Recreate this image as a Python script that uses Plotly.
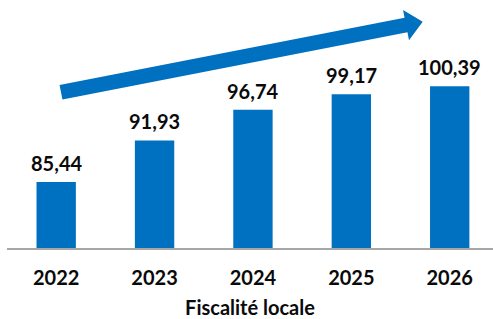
import plotly.graph_objects as go
import math

years = ["2022", "2023", "2024", "2025", "2026"]
values = [85.44, 91.93, 96.74, 99.17, 100.39]
labels = ["85,44", "91,93", "96,74", "99,17", "100,39"]
title_text = "Fiscalité locale"

BLUE = "#0070C0"
FONT = "Lato"
W, H = 493, 319
ML, MR, MT, MB = 7, 0, 0, 69
PW, PH = W - ML - MR, H - MT - MB

fig = go.Figure()
fig.add_trace(go.Bar(x=years, y=values, marker=dict(color=BLUE, line=dict(width=0)),
                     width=0.4, hoverinfo="skip"))

for i, (v, lab) in enumerate(zip(values, labels)):
    fig.add_annotation(x=i, y=v, xref="x", yref="y", text=lab, showarrow=False,
                       yanchor="bottom", yshift=5,
                       font=dict(family=FONT, size=20, color="#0a0a0a", weight="bold"))

# decorative trend arrow (pixel geometry -> paper coords)
def P(px, py):
    return ((px - ML) / PW, (H - MB - py) / PH)

tail = (61.0, 93.0)
tip = (422.7, 22.0)
dx, dy = tip[0] - tail[0], tip[1] - tail[1]
L = math.hypot(dx, dy)
ux, uy = dx / L, dy / L
nx, ny = -uy, ux
hw, hh, hl = 7.5, 15.5, 17.0
base = (tip[0] - ux * hl, tip[1] - uy * hl)
pts = [
    (tail[0] - nx * hw, tail[1] - ny * hw),
    (base[0] - nx * hw, base[1] - ny * hw),
    (base[0] - nx * hh, base[1] - ny * hh),
    tip,
    (base[0] + nx * hh, base[1] + ny * hh),
    (base[0] + nx * hw, base[1] + ny * hw),
    (tail[0] + nx * hw, tail[1] + ny * hw),
]
path = "M " + " L ".join("%.5f,%.5f" % P(*p) for p in pts) + " Z"
fig.add_shape(type="path", path=path, xref="paper", yref="paper",
              fillcolor=BLUE, line=dict(width=0), layer="above")

fig.update_layout(
    width=W, height=H,
    margin=dict(l=ML, r=MR, t=MT, b=MB),
    plot_bgcolor="white", paper_bgcolor="white",
    showlegend=False,
    xaxis=dict(
        type="category",
        range=[-0.5, 4.44], showline=True, linecolor="#A6A6A6", linewidth=2,
        showgrid=False, zeroline=False, ticks="", ticklabelstandoff=11,
        tickfont=dict(family=FONT, size=20, color="#0a0a0a", weight="bold"),
        title=dict(text=title_text, standoff=16,
                   font=dict(family=FONT, size=20, color="#0a0a0a", weight="bold")),
        fixedrange=True,
    ),
    yaxis=dict(range=[75.1, 113.9], visible=False, showgrid=False, zeroline=False, fixedrange=True),
)

fig.write_html("out.html", config={"displayModeBar": False},
               post_script="document.body.style.margin='0';document.body.style.overflow='hidden';")
